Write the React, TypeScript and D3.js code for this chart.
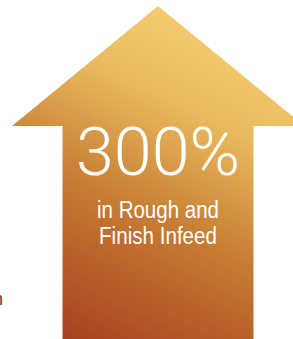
import React, { useEffect, useRef } from 'react';
import * as d3 from 'd3';

// headline figure and caption lines
const headline = ['300%'];
const captionLines = ['in Rough and', 'Finish Infeed'];
const sideText = ['n'];
const gradientStops = [
  { offset: 0, color: '#F5D173' },
  { offset: 0.28, color: '#E9B95D' },
  { offset: 0.58, color: '#C77D34' },
  { offset: 1, color: '#A63F1E' },
];

const W = 293;
const H = 339;

const App = () => {
  const ref = useRef(null);

  useEffect(() => {
    const root = d3.select(ref.current);
    root.selectAll('*').remove();

    const svg = root
      .append('svg')
      .attr('width', W)
      .attr('height', H)
      .style('display', 'block');

    // arrow geometry in unit coords, mapped to pixels by scales
    const x = d3.scaleLinear().domain([-1, 1]).range([12, 304]);
    const y = d3.scaleLinear().domain([0, 1]).range([6, 339]);
    const shaftHalf = 0.654;
    const headBase = 0.36;

    const outline: [number, number][] = [
      [0, 0],
      [1, headBase],
      [shaftHalf, headBase],
      [shaftHalf, 1],
      [-shaftHalf, 1],
      [-shaftHalf, headBase],
      [-1, headBase],
    ];

    const defs = svg.append('defs');
    const grad = defs
      .append('linearGradient')
      .attr('id', 'arrowGrad')
      .attr('gradientUnits', 'userSpaceOnUse')
      .attr('x1', 225)
      .attr('y1', 15)
      .attr('x2', 65)
      .attr('y2', 345);
    grad
      .selectAll('stop')
      .data(gradientStops)
      .enter()
      .append('stop')
      .attr('offset', (d) => d.offset)
      .attr('stop-color', (d) => d.color);

    const line = d3
      .line<[number, number]>()
      .x((d) => x(d[0]))
      .y((d) => y(d[1]));

    svg
      .append('path')
      .attr('d', line(outline) + 'Z')
      .attr('fill', 'url(#arrowGrad)');

    const cx = x(0);

    svg
      .selectAll('.headline')
      .data(headline)
      .enter()
      .append('text')
      .attr('class', 'headline')
      .attr('x', cx)
      .attr('y', 175)
      .attr('text-anchor', 'middle')
      .attr('textLength', 164)
      .attr('lengthAdjust', 'spacingAndGlyphs')
      .style('font-family', 'Roboto, Lato, sans-serif')
      .style('font-weight', 300)
      .style('font-size', '66px')
      .style('fill', '#fff')
      .text((d) => d);

    svg
      .selectAll('.caption')
      .data(captionLines)
      .enter()
      .append('text')
      .attr('class', 'caption')
      .attr('x', cx)
      .attr('y', (d, i) => 218 + i * 26)
      .attr('text-anchor', 'middle')
      .attr('textLength', (d, i) => (i === 0 ? 122 : 118))
      .attr('lengthAdjust', 'spacingAndGlyphs')
      .style('font-family', '"Liberation Sans Narrow", "Liberation Sans", Arial, sans-serif')
      .style('font-size', '23px')
      .style('fill', '#fff')
      .text((d) => d);

    svg
      .selectAll('.side')
      .data(sideText)
      .enter()
      .append('text')
      .attr('class', 'side')
      .attr('x', 3)
      .attr('y', 305)
      .attr('text-anchor', 'end')
      .style('font-family', '"Liberation Sans", Arial, sans-serif')
      .style('font-size', '18px')
      .style('fill', '#444')
      .text((d) => d);
  }, []);

  return (
    <div
      ref={ref}
      style={{ position: 'fixed', left: 0, top: 0, width: W, height: H, background: '#fff' }}
    ></div>
  );
};

export default App;
